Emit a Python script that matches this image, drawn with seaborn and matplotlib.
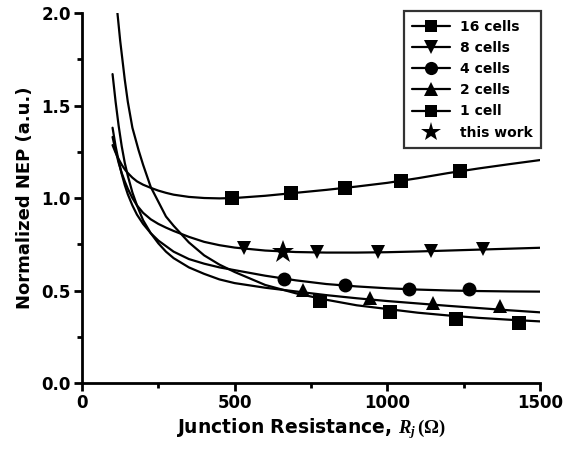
import matplotlib
matplotlib.use("Agg")
import matplotlib.pyplot as plt
from matplotlib.lines import Line2D
from matplotlib.ticker import MultipleLocator, FormatStrFormatter
import seaborn as sns
import pandas as pd

# Fitted NEP curves (x in ohms)
r_1 = [116, 125, 140, 150, 165, 185, 200, 225, 250, 275, 300, 350, 400, 450, 500,
       600, 700, 800, 900, 1000, 1100, 1200, 1300, 1400, 1500]
nep_1 = [2.00, 1.85, 1.64, 1.52, 1.38, 1.26, 1.18, 1.06, 0.98, 0.90, 0.85, 0.76, 0.69,
         0.64, 0.60, 0.53, 0.485, 0.45, 0.42, 0.40, 0.38, 0.365, 0.352, 0.342, 0.333]

r_grid = [100, 110, 120, 130, 140, 150, 165, 180, 200, 225, 250, 275, 300, 350, 400,
          450, 500, 600, 700, 800, 900, 1000, 1100, 1200, 1300, 1400, 1500]
nep_2 = [1.67, 1.52, 1.39, 1.28, 1.19, 1.12, 1.03, 0.96, 0.88, 0.81, 0.755, 0.71, 0.675,
         0.625, 0.59, 0.56, 0.54, 0.515, 0.495, 0.475, 0.458, 0.443, 0.43, 0.417, 0.405,
         0.393, 0.382]
nep_4 = [1.38, 1.28, 1.20, 1.13, 1.07, 1.02, 0.96, 0.91, 0.86, 0.81, 0.77, 0.74, 0.71,
         0.67, 0.645, 0.625, 0.61, 0.58, 0.555, 0.535, 0.522, 0.512, 0.505, 0.50, 0.497,
         0.495, 0.494]
nep_8 = [1.33, 1.255, 1.19, 1.135, 1.09, 1.05, 1.0, 0.96, 0.92, 0.885, 0.86, 0.84, 0.822,
         0.79, 0.763, 0.745, 0.732, 0.716, 0.708, 0.705, 0.705, 0.707, 0.711, 0.716,
         0.721, 0.726, 0.731]
nep_16 = [1.286, 1.245, 1.21, 1.18, 1.155, 1.135, 1.11, 1.09, 1.072, 1.055, 1.04, 1.028,
          1.018, 1.006, 1.0, 0.998, 1.0, 1.012, 1.028, 1.044, 1.062, 1.082, 1.107,
          1.135, 1.16, 1.183, 1.205]

# Computed points
pts_16_r = [492, 686, 860, 1044, 1237]
pts_16_v = [1.0, 1.027, 1.054, 1.092, 1.146]
pts_8_r = [529, 770, 970, 1144, 1315]
pts_8_v = [0.728, 0.706, 0.706, 0.715, 0.723]
pts_4_r = [663, 861, 1071, 1268]
pts_4_v = [0.564, 0.528, 0.508, 0.507]
pts_2_r = [724, 943, 1150, 1369]
pts_2_v = [0.503, 0.458, 0.434, 0.416]
pts_1_r = [781, 1008, 1224, 1432]
pts_1_v = [0.443, 0.382, 0.344, 0.322]
this_r = [660]
this_v = [0.71]

labels = ["16 cells", "8 cells", "4 cells", "2 cells", "1 cell", "this work"]

sns.set_style("ticks")
plt.rcParams["font.family"] = ["DejaVu Sans"]
plt.rcParams["font.weight"] = "bold"
plt.rcParams["text.color"] = "black"
plt.rcParams["axes.labelcolor"] = "black"
plt.rcParams["xtick.color"] = "black"
plt.rcParams["ytick.color"] = "black"
plt.rcParams["mathtext.fontset"] = "custom"
plt.rcParams["mathtext.it"] = "Liberation Serif:italic:bold"
plt.rcParams["mathtext.rm"] = "Liberation Serif:bold"

fig = plt.figure(figsize=(5.63, 4.51), dpi=100)
ax = fig.add_axes([0.1457, 0.1508, 0.8133, 0.8203])

curves = [(r_grid, nep_16), (r_grid, nep_8), (r_grid, nep_4), (r_grid, nep_2), (r_1, nep_1)]
for rx, ry in curves:
    df = pd.DataFrame({"R": rx, "NEP": ry})
    sns.lineplot(data=df, x="R", y="NEP", ax=ax, color="black", linewidth=1.6,
                 sort=False, estimator=None)

point_sets = [
    (pts_16_r, pts_16_v, "s", 9.5),
    (pts_8_r, pts_8_v, "v", 10),
    (pts_4_r, pts_4_v, "o", 10),
    (pts_2_r, pts_2_v, "^", 10),
    (pts_1_r, pts_1_v, "s", 9.5),
    (this_r, this_v, "*", 17),
]
for rx, ry, mk, ms in point_sets:
    df = pd.DataFrame({"R": rx, "NEP": ry})
    ax.plot(df["R"], df["NEP"], linestyle="none", marker=mk, markersize=ms,
            color="black", markeredgewidth=0, zorder=5)

ax.set_xlim(0, 1500)
ax.set_ylim(0, 2.0)
ax.xaxis.set_major_locator(MultipleLocator(500))
ax.xaxis.set_minor_locator(MultipleLocator(250))
ax.yaxis.set_major_locator(MultipleLocator(0.5))
ax.yaxis.set_minor_locator(MultipleLocator(0.25))
ax.yaxis.set_major_formatter(FormatStrFormatter("%.1f"))

for side in ["top", "right"]:
    ax.spines[side].set_visible(False)
for side in ["left", "bottom"]:
    ax.spines[side].set_linewidth(2.0)
    ax.spines[side].set_color("black")
ax.tick_params(which="major", direction="out", length=6, width=2, labelsize=12,
               color="black", labelcolor="black", pad=2)
ax.tick_params(which="minor", direction="out", length=3.5, width=2, color="black")
for lab in ax.get_xticklabels() + ax.get_yticklabels():
    lab.set_fontweight("bold")

ax.set_xlabel(r"Junction Resistance, $R_j\,(\Omega)$", fontsize=13.5, fontweight="bold",
              labelpad=3, color="black")
ax.set_ylabel("Normalized NEP (a.u.)", fontsize=13, fontweight="bold", labelpad=5,
              color="black")

handles = []
for rx, ry, mk, ms in point_sets:
    ls = "none" if mk == "*" else "-"
    handles.append(Line2D([], [], color="black", linestyle=ls, linewidth=1.6, marker=mk,
                          markersize=ms * (0.95 if mk != "*" else 0.85), markeredgewidth=0))
leg = ax.legend(handles, labels, loc="upper right", bbox_to_anchor=(1.003, 1.005),
                borderaxespad=0, frameon=True, fancybox=False, edgecolor="black",
                prop={"weight": "bold", "size": 10}, handlelength=2.75,
                handletextpad=0.72, labelspacing=0.52, borderpad=0.6)
leg.get_frame().set_linewidth(1.6)
for t in leg.get_texts():
    t.set_color("black")

fig.savefig("out.png", dpi=100)
